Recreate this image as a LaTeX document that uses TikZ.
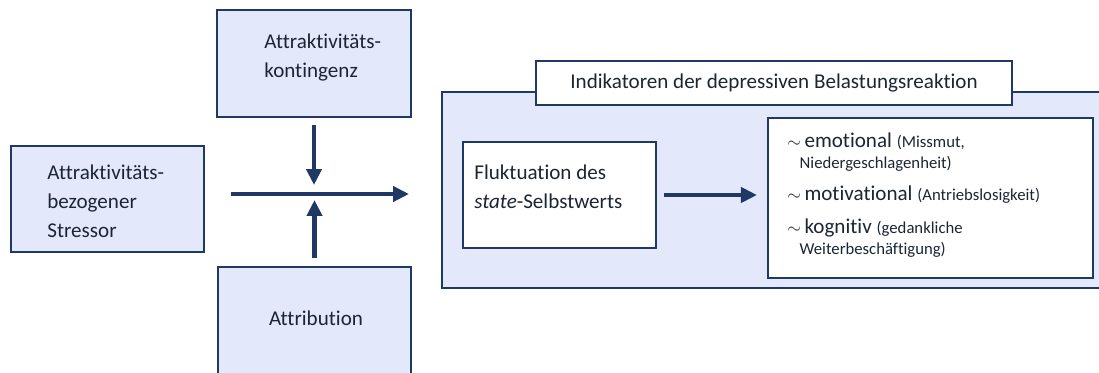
\documentclass[tikz,border=0pt]{standalone}
\usepackage{fontspec}
\setmainfont{Carlito}[Ligatures=NoCommon]
\usepackage{tikz}
\usetikzlibrary{arrows.meta, positioning, calc}
\usepackage{xcolor}
\definecolor{modnavy}{HTML}{1F3864}
\definecolor{modfill}{HTML}{E3E9FB}
\definecolor{modtext}{HTML}{1C2633}

\begin{document}
\begin{tikzpicture}[
  x=0.02cm, y=-0.02cm,
  modbox/.style 2 args={
    rectangle, draw=modnavy, fill=#2, line width=1.2pt,
    minimum width=#1, inner sep=0pt
  },
  lbl/.style={
    inner sep=0pt, align=left, text=modtext,
    font=\fontsize{12}{16.4}\selectfont
  },
  item/.style={
    inner sep=0pt, align=left, text=modtext,
    font=\fontsize{12}{12}\selectfont
  },
  arr/.style={-{Triangle[length=0.32cm, width=0.3cm]}, line width=2.6pt, modnavy}
]
  \useasboundingbox (0,0) rectangle (1099,372);
  \clip (0,0) rectangle (1099,372);

  % left side: input boxes
  \node[modbox={3.88cm}{modfill}, minimum height=2.14cm] (kont) at (314,63.5) {};
  \node[modbox={3.86cm}{modfill}, minimum height=2.12cm] (stressor) at (107.5,199) {};
  \node[modbox={3.86cm}{modfill}, minimum height=2.4cm] (attrib) at (314.5,327) {};

  \node[lbl, anchor=west] (konttxt) at (264,57.5) {Attraktivitäts-\\kontingenz};
  \node[lbl, anchor=west] (stressortxt) at (47,201.5) {Attraktivitäts-\\bezogener\\Stressor};
  \node[lbl] (attribtxt) at (316,318) {Attribution};

  % right side: indicators
  \node[modbox={13.26cm}{modfill}, minimum height=3.92cm] (big) at (773.5,190) {};
  \node[modbox={9.52cm}{white}, minimum height=0.88cm, lbl] (title) at (774,83)
    {Indikatoren der depressiven Belastungsreaktion};
  \node[modbox={3.86cm}{white}, minimum height=2.12cm] (fluk) at (559.5,195) {};
  \node[modbox={6.5cm}{white}, minimum height=3.2cm] (indik) at (930.5,198) {};

  \node[lbl, anchor=west] (fluktxt) at (474,187) {Fluktuation des\\\textit{state}-Selbstwerts};

  \node[item, anchor=west] (emo) at (787,152.5) {%
    {\fontsize{10}{12}\selectfont$\sim$}\,emotional {\fontsize{9.5}{12}\selectfont(Missmut,}\\
    \hspace*{7pt}{\fontsize{9.5}{12}\selectfont Niedergeschlagenheit)}};
  \node[item, anchor=west] (moti) at (787,195) {%
    {\fontsize{10}{12}\selectfont$\sim$}\,motivational {\fontsize{9.5}{12}\selectfont(Antriebslosigkeit)}};
  \node[item, anchor=west] (kogn) at (787,238) {%
    {\fontsize{10}{12}\selectfont$\sim$}\,kognitiv {\fontsize{9.5}{12}\selectfont(gedankliche}\\
    \hspace*{7pt}{\fontsize{9.5}{12}\selectfont Weiterbeschäftigung)}};

  % arrows
  \coordinate (cross) at (314,194);
  \draw[arr, shorten <=0.52cm, shorten >=0.64cm] (stressor.east |- cross) -- (big.west |- cross);
  \draw[arr, shorten <=0.14cm, shorten >=0.18cm] (kont.south) -- (kont.south |- cross);
  \draw[arr, shorten <=0.16cm, shorten >=0.12cm] (attrib.north) -- (attrib.north |- cross);
  \draw[arr, shorten <=0.14cm, shorten >=0.2cm] (fluk.east) -- (fluk.east -| indik.west);
\end{tikzpicture}
\end{document}
